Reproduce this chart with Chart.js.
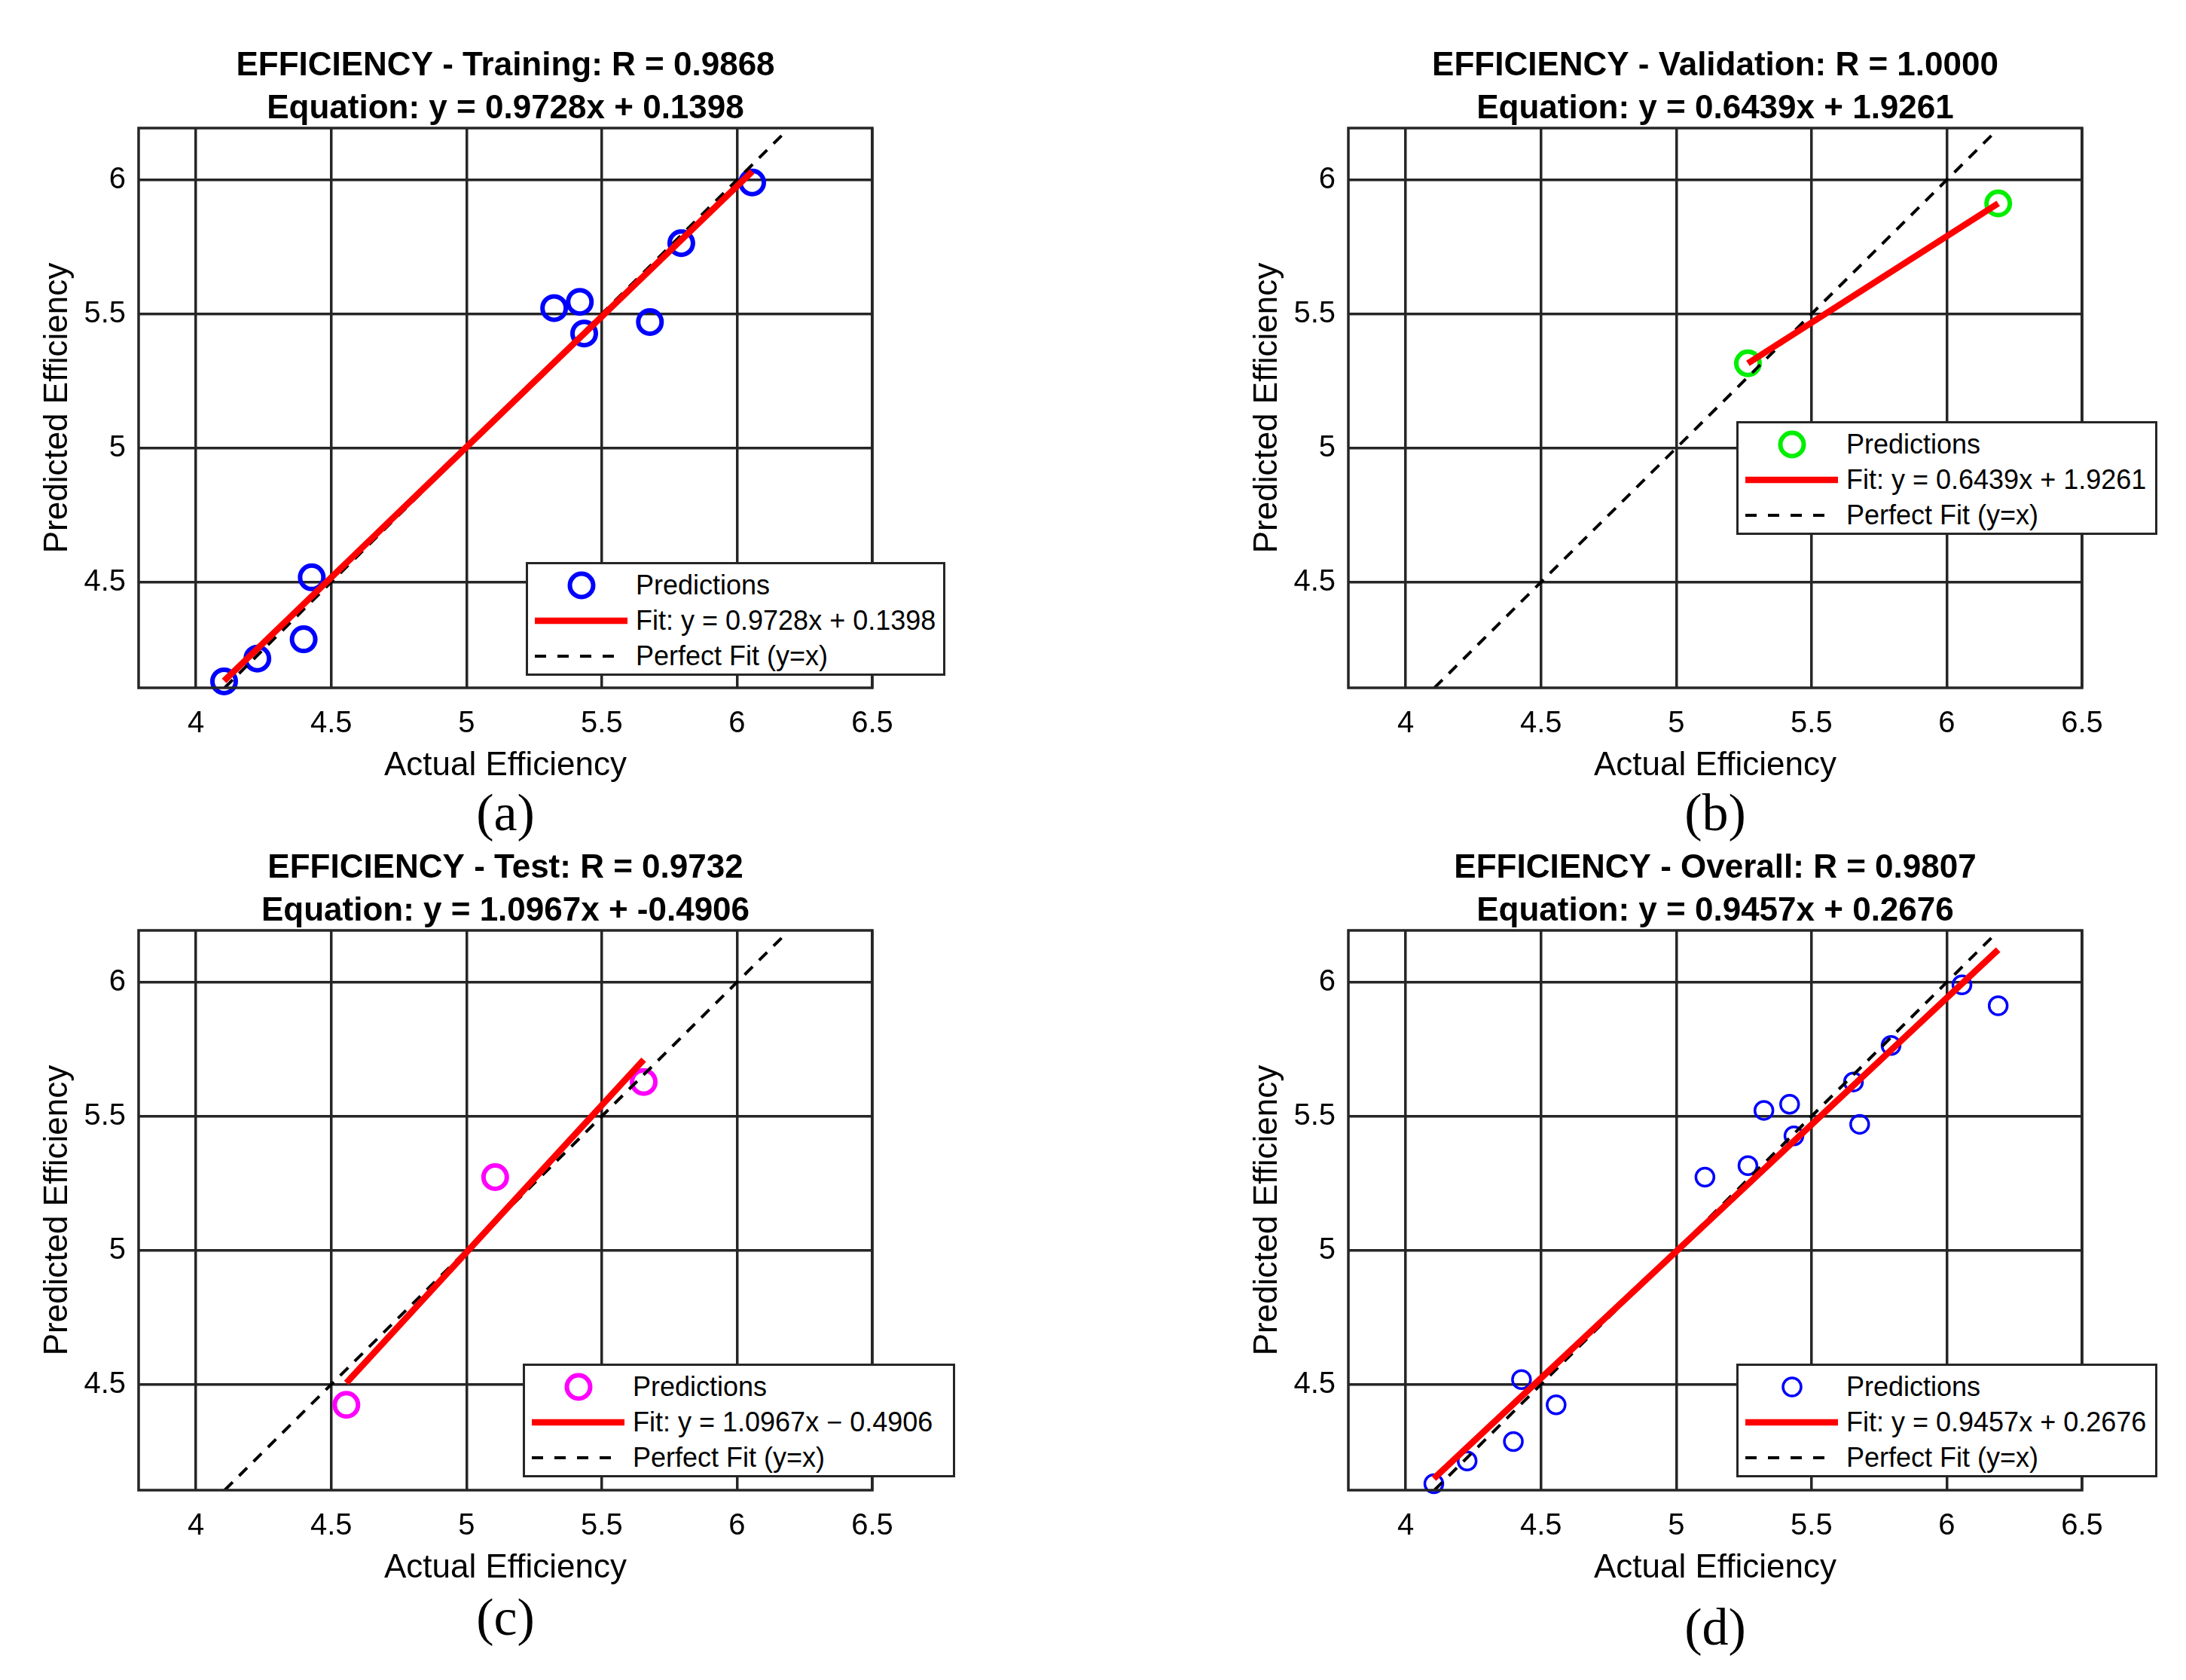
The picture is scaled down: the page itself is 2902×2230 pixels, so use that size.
<!DOCTYPE html>
<html>
<head>
<meta charset="utf-8">
<title>EFFICIENCY regression plots</title>
<script src="https://cdn.jsdelivr.net/npm/chart.js@4.4.1/dist/chart.umd.min.js"></script>
<style>
  html, body { margin: 0; padding: 0; background: #fff; overflow: hidden; }
  body { width: 2902px; height: 2230px; position: relative; font-family: 'Liberation Sans', Arial, sans-serif; color: #000; }
  .panel { position: absolute; width: 1300px; height: 1160px; }
  .panel canvas { position: absolute; left: 0; top: 0; }
  .legend { position: absolute; background: #fff; border: 3px solid #262626; box-sizing: border-box; height: 151px; }
  .legend .row { position: absolute; left: 0; height: 46px; display: flex; align-items: center; }
  .legend svg { display: block; flex: none; }
  .legend span { margin-left: 3px; font-size: 36px; line-height: 46px; white-space: nowrap; }
</style>
</head>
<body>
<div class="panel" id="pa" style="left:0;top:0"><canvas id="ca" width="1240" height="1160"></canvas></div>
<div class="panel" id="pb" style="left:1606px;top:0"><canvas id="cb" width="1240" height="1160"></canvas></div>
<div class="panel" id="pc" style="left:0;top:1065px"><canvas id="cc" width="1240" height="1160"></canvas></div>
<div class="panel" id="pd" style="left:1606px;top:1065px"><canvas id="cd" width="1240" height="1160"></canvas></div>
<script>
// axis ticks and limits (same for all four plots)
const xTicks = [4, 4.5, 5, 5.5, 6, 6.5];
const xTickLabels = ['4', '4.5', '5', '5.5', '6', '6.5'];
const yTicks = [4.5, 5, 5.5, 6];
const yTickLabels = ['4.5', '5', '5.5', '6'];
const xRange = [3.788, 6.5];
const yRange = [4.106, 6.193];

// actual vs predicted efficiency
const trainActual = [6.056, 5.794, 5.324, 5.419, 5.435, 5.678, 4.428, 4.398, 4.227, 4.104];
const trainPred   = [5.990, 5.764, 5.522, 5.545, 5.427, 5.470, 4.518, 4.287, 4.215, 4.130];
const valActual   = [5.265, 6.190];
const valPred     = [5.316, 5.912];
const testActual  = [4.556, 5.106, 5.655];
const testPred    = [4.424, 5.273, 5.628];
const allActual = trainActual.concat(valActual, testActual);
const allPred   = trainPred.concat(valPred, testPred);

// end points of the fitted lines
const trainFitX = [4.104, 6.056];
const trainFitY = [4.132, 6.031];
const valFitX   = [5.265, 6.190];
const valFitY   = [5.316, 5.912];
const testFitX  = [4.556, 5.655];
const testFitY  = [4.506, 5.711];
const allFitX   = [4.104, 6.190];
const allFitY   = [4.149, 6.121];
// y = x reference line
const perfectXY = [4.106, 6.167];

Chart.defaults.font.family = "'Liberation Sans', Arial, sans-serif";
Chart.defaults.color = '#000';

const GRID = '#262626';

const framePlugin = {
  id: 'frame',
  afterDraw(chart) {
    const { ctx, chartArea: a } = chart;
    ctx.save();
    ctx.strokeStyle = GRID;
    ctx.lineWidth = 3.5;
    ctx.strokeRect(a.left, a.top, a.right - a.left, a.bottom - a.top);
    ctx.restore();
  }
};

function pairs(xs, ys) {
  return xs.map((x, i) => ({ x: x, y: ys[i] }));
}

function buildLegend(panel, p) {
  const box = document.createElement('div');
  box.className = 'legend';
  box.style.left = p.legend[0] + 'px';
  box.style.top = p.legend[1] + 'px';
  box.style.width = p.legend[2] + 'px';
  const rows = [
    { svg: '<circle cx="71" cy="23" r="' + p.radius + '" fill="none" stroke="' + p.color + '" stroke-width="' + p.border + '"/>', text: 'Predictions' },
    { svg: '<line x1="9" y1="23" x2="132" y2="23" stroke="#ff0000" stroke-width="8.5"/>', text: p.fitLabel },
    { svg: '<line x1="9" y1="23" x2="122" y2="23" stroke="#000" stroke-width="4" stroke-dasharray="15 15"/>', text: 'Perfect Fit (y=x)' }
  ];
  rows.forEach((r, i) => {
    const row = document.createElement('div');
    row.className = 'row';
    row.style.top = (5 + i * 47) + 'px';
    row.innerHTML = '<svg width="140" height="46">' + r.svg + '</svg><span>' + r.text + '</span>';
    box.appendChild(row);
  });
  panel.appendChild(box);
}

function makePanel(p) {
  const ctx = document.getElementById(p.canvas).getContext('2d');
  new Chart(ctx, {
    type: 'scatter',
    data: {
      datasets: [
        {
          label: 'Fit',
          data: pairs(p.fitX, p.fitY),
          showLine: true,
          borderColor: '#ff0000',
          borderWidth: 8.5,
          pointRadius: 0,
          fill: false,
          order: 1
        },
        {
          label: 'Perfect Fit (y=x)',
          data: pairs(perfectXY, perfectXY),
          showLine: true,
          borderColor: '#000',
          borderWidth: 4,
          borderDash: [15, 12],
          pointRadius: 0,
          fill: false,
          order: 2
        },
        {
          label: 'Predictions',
          data: pairs(p.actual, p.pred),
          pointStyle: 'circle',
          pointRadius: p.radius,
          pointBorderWidth: p.border,
          borderColor: p.color,
          backgroundColor: 'rgba(0,0,0,0)',
          clip: false,
          order: 3
        }
      ]
    },
    options: {
      responsive: false,
      animation: false,
      devicePixelRatio: 1,
      events: [],
      // canvas is 1160 high; chart area stays at 170..913
      layout: { padding: { top: 59, left: 0, right: 82, bottom: 47 - p.captionPad } },
      plugins: {
        legend: { display: false },
        tooltip: { enabled: false },
        title: {
          display: true,
          text: p.title,
          fullSize: false,
          font: { size: 44, weight: 'bold', lineHeight: 57 / 44 },
          padding: { top: 0, bottom: -3 }
        },
        subtitle: {
          display: true,
          position: 'bottom',
          text: p.caption,
          fullSize: false,
          font: { family: "'Liberation Serif', 'Times New Roman', serif", size: 70, lineHeight: 1 },
          padding: { top: p.captionPad, bottom: 0 }
        }
      },
      scales: {
        x: {
          type: 'linear',
          position: 'bottom',
          min: xRange[0],
          max: xRange[1],
          bounds: 'data',
          afterBuildTicks: s => { s.ticks = xTicks.map(v => ({ value: v })); },
          afterFit: s => { s.height = 130; },
          ticks: { padding: 24, font: { size: 40 }, callback: (v, i) => xTickLabels[i] },
          grid: { color: GRID, lineWidth: 3.5, drawTicks: false },
          border: { display: false },
          title: { display: true, text: 'Actual Efficiency', font: { size: 44 }, padding: { top: 0, bottom: 0 } }
        },
        y: {
          type: 'linear',
          position: 'left',
          min: yRange[0],
          max: yRange[1],
          bounds: 'data',
          afterBuildTicks: s => { s.ticks = yTicks.map(v => ({ value: v })); },
          afterFit: s => { s.width = 184; },
          ticks: { padding: 17, font: { size: 40 }, callback: (v, i) => yTickLabels[i] },
          grid: { color: GRID, lineWidth: 3.5, drawTicks: false },
          border: { display: false },
          title: { display: true, text: 'Predicted Efficiency', font: { size: 44 }, padding: { top: 50, bottom: 0 } }
        }
      }
    },
    plugins: [framePlugin]
  });
  buildLegend(document.getElementById(p.panel), p);
}

makePanel({
  panel: 'pa', canvas: 'ca', caption: '(a)', captionPad: 6,
  title: ['EFFICIENCY - Training: R = 0.9868', 'Equation: y = 0.9728x + 0.1398'],
  actual: trainActual, pred: trainPred, fitX: trainFitX, fitY: trainFitY,
  color: '#0000ff', radius: 15.5, border: 6,
  fitLabel: 'Fit: y = 0.9728x + 0.1398', legend: [698, 746, 557]
});
makePanel({
  panel: 'pb', canvas: 'cb', caption: '(b)', captionPad: 6,
  title: ['EFFICIENCY - Validation: R = 1.0000', 'Equation: y = 0.6439x + 1.9261'],
  actual: valActual, pred: valPred, fitX: valFitX, fitY: valFitY,
  color: '#00ee00', radius: 15.5, border: 6,
  fitLabel: 'Fit: y = 0.6439x + 1.9261', legend: [699, 559, 559]
});
makePanel({
  panel: 'pc', canvas: 'cc', caption: '(c)', captionPad: 9,
  title: ['EFFICIENCY - Test: R = 0.9732', 'Equation: y = 1.0967x + -0.4906'],
  actual: testActual, pred: testPred, fitX: testFitX, fitY: testFitY,
  color: '#ff00ff', radius: 15.5, border: 6,
  fitLabel: 'Fit: y = 1.0967x \u2212 0.4906', legend: [694, 745, 574]
});
makePanel({
  panel: 'pd', canvas: 'cd', caption: '(d)', captionPad: 22,
  title: ['EFFICIENCY - Overall: R = 0.9807', 'Equation: y = 0.9457x + 0.2676'],
  actual: allActual, pred: allPred, fitX: allFitX, fitY: allFitY,
  color: '#0000ff', radius: 12, border: 3.5,
  fitLabel: 'Fit: y = 0.9457x + 0.2676', legend: [699, 745, 559]
});
</script>
</body>
</html>
